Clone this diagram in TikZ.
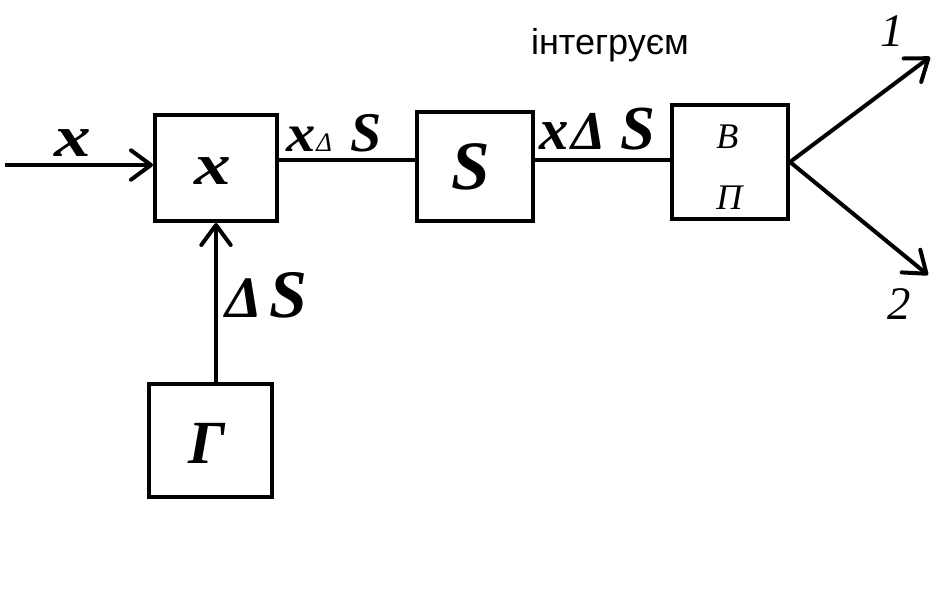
\documentclass[tikz,border=0pt]{standalone}
\usepackage{fontspec}
\setmainfont{Liberation Serif}
\newfontfamily\sansf{Liberation Sans}
\usetikzlibrary{arrows.meta,calc}
\newcommand{\fs}[1]{\fontsize{#1}{#1}\selectfont}
\newcommand{\bis}[1]{\bfseries\itshape\fontsize{#1}{#1}\selectfont}
\tikzset{
  blk/.style={draw, line width=3pt, inner sep=0pt},
  ln/.style={line width=3pt},
  arr/.style={line width=3pt, -{Straight Barb[length=15pt,width=22pt,round]}},
  lbl/.style={inner sep=0pt, anchor=base west},
}
\begin{document}
\begin{tikzpicture}[x=0.75pt,y=-0.75pt]
\useasboundingbox (0,0) rectangle (948,605);
% boxes
\node[blk, minimum width=91.5pt, minimum height=79.5pt] (bx) at (216,168) {};
\node[blk, minimum width=87pt, minimum height=81.75pt] (bs) at (475,166.5) {};
\node[blk, minimum width=87pt, minimum height=85.5pt] (bv) at (730,162) {};
\node[blk, minimum width=92.25pt, minimum height=84.75pt] (bg) at (210.5,440.5) {};
% texts inside boxes
\node[lbl, font=\bis{44}] (tx) at (194,185) {\scalebox{1.25}[1]{x}};
\node[lbl, font=\bis{52}] (ts) at (451,190) {S};
\node[lbl, font=\bis{46}] (tg) at (188,463) {Г};
\node[lbl, font=\itshape\fs{27}] (tv) at (716,149) {В};
\node[lbl, font=\itshape\fs{27}] (tp) at (716,210) {П};
% coordinates
\coordinate (in) at (5,165);
\coordinate (lny) at (0,160);
\coordinate (o1) at (930,57);
\coordinate (o2) at (928,275);
% connectors
\draw[arr] (in) -- (in -| bx.west);
\draw[ln] (bx.east |- lny) -- (bs.west |- lny);
\draw[ln] (bs.east |- lny) -- (bv.west |- lny);
\draw[arr] (bx.south |- bg.north) -- (bx.south);
\draw[arr] (bv.east) -- (o1);
\draw[arr] (bv.east) -- (o2);
% labels
\node[lbl, font=\bis{44}] (lx) at (54,157) {\scalebox{1.25}[1]{x}};
\node[lbl, font=\bis{40}] (l1x) at (286,152) {\scalebox{1.1}[1]{x}};
\node[lbl, font=\itshape\fs{20}] (l1d) at (316,152) {Δ};
\node[lbl, font=\bis{42}] (l1s) at (350,152) {S};
\node[lbl, font=\bis{44}] (l2x) at (539,150) {x};
\node[lbl, font=\bis{41}] (l2d) at (571,150) {Δ};
\node[lbl, font=\bis{47}] (l2s) at (620,150) {S};
\node[lbl, font=\bis{44}] (l3d) at (225,318) {Δ};
\node[lbl, font=\bis{51}] (l3s) at (269,318) {S};
\node[lbl, font=\itshape\fs{35}] (n1) at (880,47) {1};
\node[lbl, font=\itshape\fs{35}] (n2) at (887,320) {2};
\node[inner sep=0pt, anchor=base, font=\sansf\fs{27}] (ti) at (610,55) {інтегруєм};
\end{tikzpicture}
\end{document}
